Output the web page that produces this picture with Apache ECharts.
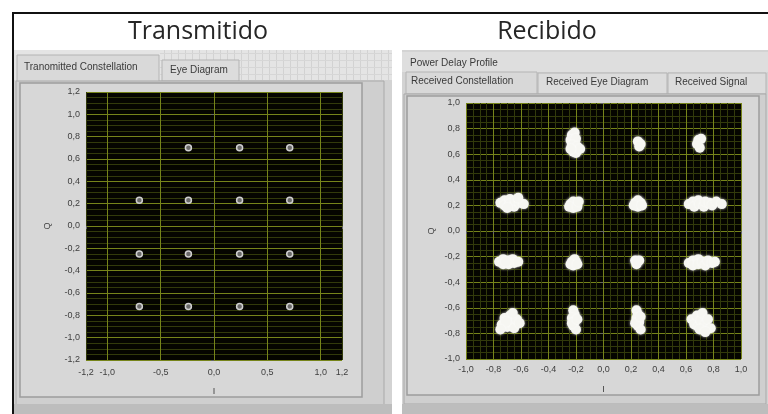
<!DOCTYPE html>
<html>
<head>
<meta charset="utf-8">
<script src="https://cdn.jsdelivr.net/npm/echarts@6/dist/echarts.min.js"></script>
<style>
  html, body { margin: 0; padding: 0; background: #fff; }
  #chart { width: 768px; height: 414px; }
</style>
</head>
<body>
<div id="chart"></div>
<script>
// transmitted constellation (I, Q) - top-left symbol is not in the capture
const txPoints = [
  [-0.24, 0.70], [0.24, 0.70], [0.71, 0.70],
  [-0.70, 0.23], [-0.24, 0.23], [0.24, 0.23], [0.71, 0.23],
  [-0.70, -0.25], [-0.24, -0.25], [0.24, -0.25], [0.71, -0.25],
  [-0.70, -0.72], [-0.24, -0.72], [0.24, -0.72], [0.71, -0.72]
];
const txXTicks = [-1.2, -1.0, -0.5, 0, 0.5, 1.0, 1.2];
const txMajorX = [-1.0, -0.5, 0, 0.5, 1.0];

// received constellation, noisy clusters
const rxPoints = [
  // row Q ~ 0.7
  [-0.23, 0.75], [-0.21, 0.77], [-0.24, 0.71], [-0.20, 0.72], [-0.23, 0.67],
  [-0.19, 0.66], [-0.22, 0.62], [-0.20, 0.61], [-0.17, 0.64], [-0.24, 0.64],
  [0.25, 0.70], [0.27, 0.68], [0.26, 0.66],
  [0.69, 0.71], [0.71, 0.72], [0.70, 0.65], [0.68, 0.68],
  // row Q ~ 0.2
  [-0.75, 0.22], [-0.72, 0.24], [-0.72, 0.20], [-0.68, 0.25], [-0.68, 0.21],
  [-0.65, 0.19], [-0.64, 0.24], [-0.61, 0.22], [-0.58, 0.21], [-0.70, 0.18], [-0.62, 0.26],
  [-0.24, 0.21], [-0.20, 0.21], [-0.22, 0.18], [-0.22, 0.23], [-0.25, 0.19], [-0.19, 0.19], [-0.18, 0.23],
  [0.23, 0.22], [0.27, 0.22], [0.25, 0.19], [0.25, 0.24], [0.22, 0.20], [0.28, 0.20],
  [0.62, 0.21], [0.65, 0.23], [0.66, 0.19], [0.69, 0.24], [0.70, 0.21], [0.73, 0.19],
  [0.74, 0.23], [0.77, 0.22], [0.79, 0.20], [0.82, 0.23], [0.86, 0.21],
  // row Q ~ -0.25
  [-0.76, -0.24], [-0.73, -0.22], [-0.73, -0.26], [-0.69, -0.23], [-0.69, -0.26],
  [-0.66, -0.22], [-0.65, -0.25], [-0.62, -0.24], [-0.71, -0.24],
  [-0.23, -0.24], [-0.20, -0.24], [-0.22, -0.27], [-0.21, -0.22], [-0.24, -0.26], [-0.19, -0.26],
  [0.23, -0.23], [0.26, -0.23], [0.24, -0.26], [0.245, -0.24],
  [0.62, -0.25], [0.65, -0.23], [0.65, -0.27], [0.69, -0.22], [0.69, -0.26],
  [0.72, -0.24], [0.74, -0.27], [0.76, -0.23], [0.79, -0.25], [0.81, -0.24],
  // row Q ~ -0.7
  [-0.74, -0.73], [-0.72, -0.68], [-0.70, -0.75], [-0.68, -0.66], [-0.67, -0.71],
  [-0.65, -0.76], [-0.63, -0.69], [-0.61, -0.72], [-0.71, -0.71], [-0.75, -0.77], [-0.66, -0.64],
  [-0.22, -0.62], [-0.21, -0.65], [-0.23, -0.68], [-0.21, -0.71], [-0.22, -0.74],
  [-0.20, -0.77], [-0.23, -0.72], [-0.19, -0.69],
  [0.24, -0.62], [0.25, -0.65], [0.24, -0.68], [0.26, -0.71], [0.25, -0.74],
  [0.27, -0.77], [0.23, -0.72], [0.27, -0.67],
  [0.64, -0.69], [0.66, -0.73], [0.68, -0.66], [0.69, -0.75], [0.71, -0.70],
  [0.72, -0.64], [0.74, -0.73], [0.76, -0.69], [0.70, -0.77], [0.78, -0.76], [0.74, -0.79]
];

const MAJOR = '#76841a';
const MINOR = '#323a0b';
const LABEL = '#3e3e3e';
const fmt = (v) => Number(v).toFixed(1).replace('.', ',');

const chart = echarts.init(document.getElementById('chart'));

// LabVIEW-like panel chrome
function panelTexture(x0, y0, w, h) {
  const out = [];
  for (let x = x0 + 4; x < x0 + w; x += 7) {
    out.push({ type: 'rect', z: -9, silent: true, shape: { x: x, y: y0, width: 1, height: h }, style: { fill: '#d2d2d2' } });
  }
  for (let y = y0 + 3; y < y0 + h; y += 7) {
    out.push({ type: 'rect', z: -9, silent: true, shape: { x: x0, y: y, width: w, height: 1 }, style: { fill: '#d6d6d6' } });
  }
  return out;
}
const tabFont = '10px "Liberation Sans", sans-serif';
const titleFont = '25px "Open Sans", sans-serif';
const chrome = [
  { type: 'rect', z: -10, shape: { x: 12, y: 12, width: 756, height: 2 }, style: { fill: '#111' } },
  { type: 'rect', z: -10, shape: { x: 12, y: 12, width: 2, height: 402 }, style: { fill: '#111' } },
  { type: 'text', z: 5, style: { x: 198, y: 32, text: 'Transmitido', align: 'center', verticalAlign: 'middle', font: titleFont, fill: '#262626' } },
  { type: 'text', z: 5, style: { x: 547, y: 32, text: 'Recibido', align: 'center', verticalAlign: 'middle', font: titleFont, fill: '#262626' } },

  // left panel
  { type: 'rect', z: -10, shape: { x: 14, y: 50, width: 378, height: 364 }, style: { fill: '#d3d3d3' } },
  { type: 'rect', z: -10, shape: { x: 14, y: 50, width: 378, height: 30 }, style: { fill: '#e4e4e4' } },
  ...panelTexture(160, 50, 232, 30),
  { type: 'rect', z: -8, shape: { x: 17, y: 55, width: 142, height: 27 }, style: { fill: '#d9d9d9', stroke: '#b4b4b4', lineWidth: 1 } },
  { type: 'text', z: -7, style: { x: 24, y: 67, text: 'Tranomitted Constellation', verticalAlign: 'middle', font: tabFont, fill: '#3a3a3a' } },
  { type: 'rect', z: -8, shape: { x: 162, y: 60, width: 77, height: 21 }, style: { fill: '#dcdcdc', stroke: '#b4b4b4', lineWidth: 1 } },
  { type: 'text', z: -7, style: { x: 170, y: 70, text: 'Eye Diagram', verticalAlign: 'middle', font: tabFont, fill: '#3a3a3a' } },
  { type: 'rect', z: -8, shape: { x: 16, y: 81, width: 368, height: 324 }, style: { fill: '#cfcfcf', stroke: '#a9a9a9', lineWidth: 1 } },
  { type: 'rect', z: -7, shape: { x: 20, y: 83, width: 342, height: 314 }, style: { fill: '#d7d7d7', stroke: '#9d9d9d', lineWidth: 1.5 } },
  { type: 'rect', z: -8, shape: { x: 14, y: 404, width: 378, height: 10 }, style: { fill: '#bdbdbd' } },

  // right panel
  { type: 'rect', z: -10, shape: { x: 402, y: 50, width: 366, height: 364 }, style: { fill: '#d3d3d3' } },
  { type: 'rect', z: -9, shape: { x: 402, y: 52, width: 366, height: 20 }, style: { fill: '#dedede' } },
  { type: 'text', z: -7, style: { x: 410, y: 63, text: 'Power Delay Profile', verticalAlign: 'middle', font: tabFont, fill: '#3a3a3a' } },
  { type: 'rect', z: -8, shape: { x: 406, y: 72, width: 131, height: 22 }, style: { fill: '#d8d8d8', stroke: '#b4b4b4', lineWidth: 1 } },
  { type: 'text', z: -7, style: { x: 411, y: 81, text: 'Received Constellation', verticalAlign: 'middle', font: tabFont, fill: '#3a3a3a' } },
  { type: 'rect', z: -8, shape: { x: 538, y: 73, width: 129, height: 21 }, style: { fill: '#dcdcdc', stroke: '#b4b4b4', lineWidth: 1 } },
  { type: 'text', z: -7, style: { x: 546, y: 82, text: 'Received Eye Diagram', verticalAlign: 'middle', font: tabFont, fill: '#3a3a3a' } },
  { type: 'rect', z: -8, shape: { x: 668, y: 73, width: 98, height: 21 }, style: { fill: '#dcdcdc', stroke: '#b4b4b4', lineWidth: 1 } },
  { type: 'text', z: -7, style: { x: 675, y: 82, text: 'Received Signal', verticalAlign: 'middle', font: tabFont, fill: '#3a3a3a' } },
  { type: 'rect', z: -8, shape: { x: 404, y: 94, width: 362, height: 310 }, style: { fill: '#cfcfcf', stroke: '#a9a9a9', lineWidth: 1 } },
  { type: 'rect', z: -7, shape: { x: 407, y: 96, width: 352, height: 299 }, style: { fill: '#d7d7d7', stroke: '#9d9d9d', lineWidth: 1.5 } },
  { type: 'rect', z: -8, shape: { x: 402, y: 404, width: 366, height: 10 }, style: { fill: '#bdbdbd' } }
];

const axisText = { color: LABEL, fontSize: 9, fontFamily: '"Liberation Sans", sans-serif' };

const options = {
  backgroundColor: '#ffffff',
  animation: false,
  graphic: { elements: chrome },
  grid: [
    { left: 86, top: 92, width: 256, height: 268, show: true, backgroundColor: '#050500', borderWidth: 0 },
    { left: 466, top: 103, width: 275, height: 256, show: true, backgroundColor: '#050500', borderWidth: 0 }
  ],
  xAxis: [
    {
      gridIndex: 0, type: 'value', min: -1.2, max: 1.2, interval: 0.1,
      axisLine: { show: false },
      axisTick: { show: true, customValues: txXTicks, length: 3, lineStyle: { color: '#666' } },
      axisLabel: { customValues: txXTicks, formatter: fmt, margin: 8, ...axisText },
      splitLine: { show: true, lineStyle: { color: MINOR, width: 1 } },
      name: 'I', nameLocation: 'middle', nameGap: 27, nameTextStyle: axisText
    },
    {
      gridIndex: 1, type: 'value', min: -1, max: 1, interval: 0.2,
      axisLine: { show: false },
      axisTick: { show: true, length: 3, lineStyle: { color: '#666' } },
      axisLabel: { formatter: fmt, margin: 6, ...axisText },
      splitLine: { show: true, lineStyle: { color: MAJOR, width: 1 } },
      minorTick: { show: false, splitNumber: 4 },
      minorSplitLine: { show: true, lineStyle: { color: MINOR, width: 1 } },
      name: 'I', nameLocation: 'middle', nameGap: 26, nameTextStyle: axisText
    }
  ],
  yAxis: [
    {
      gridIndex: 0, type: 'value', min: -1.2, max: 1.2, interval: 0.2,
      axisLine: { show: false },
      axisTick: { show: true, length: 3, lineStyle: { color: '#666' } },
      axisLabel: { formatter: fmt, margin: 6, ...axisText },
      splitLine: { show: true, lineStyle: { color: MAJOR, width: 1 } },
      minorTick: { show: false, splitNumber: 4 },
      minorSplitLine: { show: true, lineStyle: { color: MINOR, width: 1 } },
      name: 'Q', nameLocation: 'middle', nameGap: 34, nameRotate: 90, nameTextStyle: axisText
    },
    {
      gridIndex: 1, type: 'value', min: -1, max: 1, interval: 0.2,
      axisLine: { show: false },
      axisTick: { show: true, length: 3, lineStyle: { color: '#666' } },
      axisLabel: { formatter: fmt, margin: 6, ...axisText },
      splitLine: { show: true, lineStyle: { color: MAJOR, width: 1 } },
      minorTick: { show: false, splitNumber: 4 },
      minorSplitLine: { show: true, lineStyle: { color: MINOR, width: 1 } },
      name: 'Q', nameLocation: 'middle', nameGap: 30, nameRotate: 90, nameTextStyle: axisText
    }
  ],
  series: [
    {
      // major vertical grid of the transmitted plot
      type: 'scatter', xAxisIndex: 0, yAxisIndex: 0, data: [], z: 1, silent: true,
      markLine: {
        silent: true, symbol: 'none', label: { show: false },
        lineStyle: { color: MAJOR, width: 1, type: 'solid' },
        data: txMajorX.map((v) => ({ xAxis: v }))
      }
    },
    {
      name: 'Transmitted', type: 'scatter', xAxisIndex: 0, yAxisIndex: 0, z: 5,
      symbolSize: 6,
      itemStyle: { color: '#6a6a6a', borderColor: '#cfcfcf', borderWidth: 1.5, opacity: 1 },
      data: txPoints
    },
    {
      name: 'Received', type: 'scatter', xAxisIndex: 1, yAxisIndex: 1, z: 5,
      symbolSize: 10,
      itemStyle: { color: '#f6f6f2', opacity: 1, shadowBlur: 3, shadowColor: 'rgba(255,255,255,0.7)' },
      data: rxPoints
    }
  ]
};

chart.setOption(options);
window.addEventListener('resize', () => { chart.resize(); });
</script>
</body>
</html>
